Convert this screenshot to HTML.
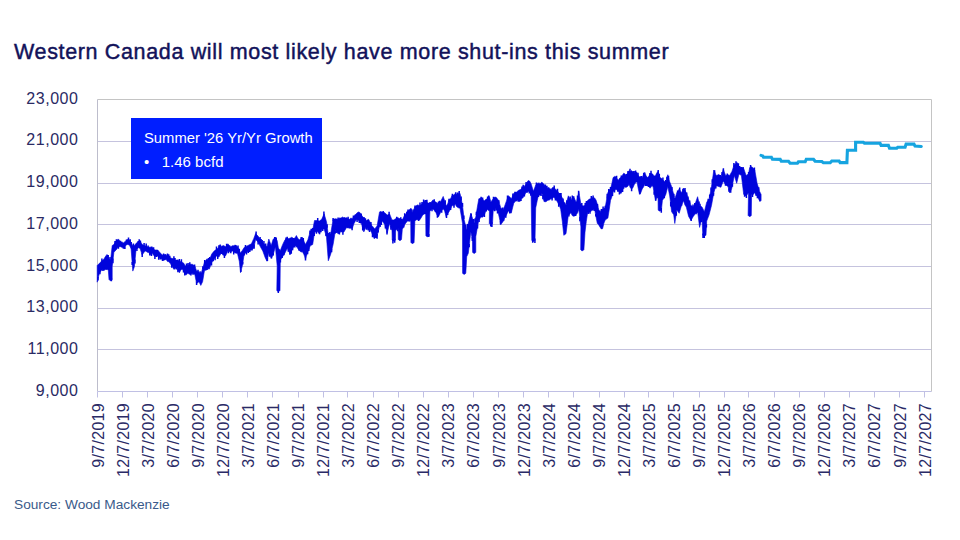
<!DOCTYPE html>
<html><head><meta charset="utf-8">
<style>
html,body{margin:0;padding:0;background:#fff;}
body{width:960px;height:540px;position:relative;overflow:hidden;font-family:"Liberation Sans",sans-serif;}
.t{position:absolute;white-space:nowrap;}
#title{left:14px;top:39.5px;font-size:21.5px;line-height:24px;letter-spacing:0.65px;color:#12125a;-webkit-text-stroke:0.45px #12125a;}
#src{left:14px;top:496.5px;font-size:13.7px;line-height:16px;color:#3a5a8a;}
.yl{position:absolute;left:0;width:78.5px;text-align:right;font-size:16px;letter-spacing:0.55px;color:#2a2a64;line-height:16px;white-space:nowrap;}
.xl{position:absolute;font-size:16px;letter-spacing:0.3px;color:#2a2a66;line-height:16px;white-space:nowrap;transform-origin:0 0;transform:rotate(-90deg);text-align:right;width:80px;}
#box{position:absolute;left:131px;top:118px;width:191px;height:60.5px;background:#001eff;color:#fff;}
#box .a{position:absolute;left:13px;top:11.5px;font-size:14.8px;line-height:16px;white-space:nowrap;}
#box .b{position:absolute;left:13px;top:36px;font-size:15px;line-height:16px;white-space:nowrap;}
</style></head><body>
<div class="t" id="title">Western Canada will most likely have more shut-ins this summer</div>

<svg width="960" height="540" style="position:absolute;left:0;top:0"><line x1="97.5" y1="141.50" x2="931.5" y2="141.50" stroke="#c5c3de" stroke-width="1"/><line x1="97.5" y1="183.50" x2="931.5" y2="183.50" stroke="#c5c3de" stroke-width="1"/><line x1="97.5" y1="224.50" x2="931.5" y2="224.50" stroke="#c5c3de" stroke-width="1"/><line x1="97.5" y1="266.50" x2="931.5" y2="266.50" stroke="#c5c3de" stroke-width="1"/><line x1="97.5" y1="308.50" x2="931.5" y2="308.50" stroke="#c5c3de" stroke-width="1"/><line x1="97.5" y1="349.50" x2="931.5" y2="349.50" stroke="#c5c3de" stroke-width="1"/><polyline points="97.5,99.5 931.5,99.5 931.5,391.5" fill="none" stroke="#c4c4c4" stroke-width="1"/><line x1="97.5" y1="99.5" x2="97.5" y2="391.5" stroke="#bdbdcc" stroke-width="1"/><line x1="97.5" y1="391.5" x2="931.5" y2="391.5" stroke="#c0c0e4" stroke-width="1"/><line x1="97.5" y1="391.5" x2="97.5" y2="397.5" stroke="#c0c0e4" stroke-width="1"/><line x1="122.5" y1="391.5" x2="122.5" y2="397.5" stroke="#c0c0e4" stroke-width="1"/><line x1="147.5" y1="391.5" x2="147.5" y2="397.5" stroke="#c0c0e4" stroke-width="1"/><line x1="172.5" y1="391.5" x2="172.5" y2="397.5" stroke="#c0c0e4" stroke-width="1"/><line x1="197.5" y1="391.5" x2="197.5" y2="397.5" stroke="#c0c0e4" stroke-width="1"/><line x1="222.5" y1="391.5" x2="222.5" y2="397.5" stroke="#c0c0e4" stroke-width="1"/><line x1="247.5" y1="391.5" x2="247.5" y2="397.5" stroke="#c0c0e4" stroke-width="1"/><line x1="272.5" y1="391.5" x2="272.5" y2="397.5" stroke="#c0c0e4" stroke-width="1"/><line x1="298.5" y1="391.5" x2="298.5" y2="397.5" stroke="#c0c0e4" stroke-width="1"/><line x1="323.5" y1="391.5" x2="323.5" y2="397.5" stroke="#c0c0e4" stroke-width="1"/><line x1="347.5" y1="391.5" x2="347.5" y2="397.5" stroke="#c0c0e4" stroke-width="1"/><line x1="373.5" y1="391.5" x2="373.5" y2="397.5" stroke="#c0c0e4" stroke-width="1"/><line x1="398.5" y1="391.5" x2="398.5" y2="397.5" stroke="#c0c0e4" stroke-width="1"/><line x1="423.5" y1="391.5" x2="423.5" y2="397.5" stroke="#c0c0e4" stroke-width="1"/><line x1="448.5" y1="391.5" x2="448.5" y2="397.5" stroke="#c0c0e4" stroke-width="1"/><line x1="473.5" y1="391.5" x2="473.5" y2="397.5" stroke="#c0c0e4" stroke-width="1"/><line x1="498.5" y1="391.5" x2="498.5" y2="397.5" stroke="#c0c0e4" stroke-width="1"/><line x1="523.5" y1="391.5" x2="523.5" y2="397.5" stroke="#c0c0e4" stroke-width="1"/><line x1="548.5" y1="391.5" x2="548.5" y2="397.5" stroke="#c0c0e4" stroke-width="1"/><line x1="573.5" y1="391.5" x2="573.5" y2="397.5" stroke="#c0c0e4" stroke-width="1"/><line x1="599.5" y1="391.5" x2="599.5" y2="397.5" stroke="#c0c0e4" stroke-width="1"/><line x1="624.5" y1="391.5" x2="624.5" y2="397.5" stroke="#c0c0e4" stroke-width="1"/><line x1="648.5" y1="391.5" x2="648.5" y2="397.5" stroke="#c0c0e4" stroke-width="1"/><line x1="673.5" y1="391.5" x2="673.5" y2="397.5" stroke="#c0c0e4" stroke-width="1"/><line x1="699.5" y1="391.5" x2="699.5" y2="397.5" stroke="#c0c0e4" stroke-width="1"/><line x1="724.5" y1="391.5" x2="724.5" y2="397.5" stroke="#c0c0e4" stroke-width="1"/><line x1="748.5" y1="391.5" x2="748.5" y2="397.5" stroke="#c0c0e4" stroke-width="1"/><line x1="774.5" y1="391.5" x2="774.5" y2="397.5" stroke="#c0c0e4" stroke-width="1"/><line x1="799.5" y1="391.5" x2="799.5" y2="397.5" stroke="#c0c0e4" stroke-width="1"/><line x1="824.5" y1="391.5" x2="824.5" y2="397.5" stroke="#c0c0e4" stroke-width="1"/><line x1="849.5" y1="391.5" x2="849.5" y2="397.5" stroke="#c0c0e4" stroke-width="1"/><line x1="874.5" y1="391.5" x2="874.5" y2="397.5" stroke="#c0c0e4" stroke-width="1"/><line x1="899.5" y1="391.5" x2="899.5" y2="397.5" stroke="#c0c0e4" stroke-width="1"/><line x1="924.5" y1="391.5" x2="924.5" y2="397.5" stroke="#c0c0e4" stroke-width="1"/><polygon points="97.2,265.6 99.4,263.3 101.7,261.1 103.9,258.9 106.1,255.6 108.3,257.8 110.6,260.0 112.2,245.6 113.9,244.4 116.1,241.1 118.3,238.9 120.6,241.7 122.8,243.3 125.0,241.7 127.2,239.4 129.4,240.0 131.1,243.3 132.8,245.6 134.4,245.6 136.1,243.3 138.3,241.7 140.0,241.1 142.2,244.4 144.4,245.6 145.8,246.0 147.2,246.7 148.6,247.1 150.0,247.2 152.2,246.7 153.6,249.3 155.0,250.0 156.4,249.9 157.8,250.0 159.2,251.7 160.6,253.3 161.9,254.6 163.3,255.6 164.7,254.6 166.1,255.0 167.5,255.9 168.9,256.7 170.3,257.8 171.7,258.3 173.9,258.9 175.3,260.1 176.7,260.0 178.1,259.9 179.4,261.7 180.8,261.5 182.2,262.2 183.6,263.0 185.0,265.6 186.4,266.2 187.8,265.6 190.0,264.3 192.4,264.3 194.8,266.1 196.6,270.9 199.0,272.1 200.8,274.5 202.6,268.5 204.4,262.5 206.8,258.9 209.3,260.1 211.7,254.1 214.1,251.1 216.5,249.3 218.9,247.4 221.3,246.2 223.7,245.6 225.5,246.8 227.9,243.8 230.3,246.8 232.7,246.2 235.1,245.0 237.5,246.8 239.3,250.5 240.5,252.9 242.3,250.5 244.2,247.4 246.6,246.2 249.0,245.0 251.4,243.8 253.8,238.4 255.6,233.6 258.0,236.0 260.4,239.6 262.8,242.6 265.2,245.0 267.0,246.8 268.8,239.0 271.2,245.6 273.0,239.6 275.4,237.2 277.2,240.8 278.4,248.1 280.3,250.5 282.7,244.4 285.0,239.7 287.4,238.5 288.9,238.6 290.4,237.9 291.9,237.2 293.4,238.5 294.9,238.1 296.4,235.5 297.9,238.6 299.4,239.7 300.9,238.8 302.4,237.3 304.0,241.2 305.5,244.5 307.9,239.7 310.3,231.3 312.7,230.1 314.5,220.5 316.9,220.5 319.3,221.1 321.7,219.3 324.1,213.8 326.5,221.7 328.3,234.9 330.7,233.7 333.1,219.3 335.5,218.7 337.9,219.3 339.5,217.9 341.0,218.1 342.5,217.0 344.0,218.1 346.4,218.1 347.9,218.7 349.4,219.3 350.9,218.0 352.4,218.7 353.9,216.2 355.4,215.0 356.9,213.0 358.4,212.0 359.9,212.5 361.4,215.0 363.8,218.1 366.2,220.5 368.6,219.3 370.1,222.2 371.6,225.3 373.1,226.9 374.7,228.9 377.1,225.9 379.5,212.0 380.0,211.5 382.4,212.1 384.8,212.7 387.2,215.1 389.6,213.9 392.0,219.9 393.8,219.9 395.6,218.7 398.1,217.5 399.9,219.9 402.3,219.9 404.7,215.1 406.2,213.7 407.7,210.9 409.2,209.7 410.7,208.5 412.5,212.7 414.9,206.7 417.3,204.9 419.7,205.5 421.2,204.6 422.7,203.1 424.2,201.5 425.7,200.0 427.5,203.1 429.9,203.1 431.4,201.9 432.9,200.0 435.4,201.8 436.9,202.7 438.4,203.7 440.8,201.2 443.2,196.4 444.7,200.8 446.2,206.1 447.7,203.8 449.2,199.4 450.7,198.4 452.2,195.2 453.7,195.1 455.2,193.4 456.7,194.2 458.3,194.2 460.0,193.3 462.5,205.0 464.2,220.0 466.7,230.0 468.3,223.3 470.8,213.3 472.5,218.3 474.2,223.3 475.8,216.7 477.3,207.3 478.8,198.8 481.1,198.1 482.6,199.0 484.1,201.1 485.6,199.5 487.1,198.8 489.4,196.6 490.9,201.9 493.2,198.8 494.7,197.1 496.2,197.3 498.5,200.3 500.8,207.9 503.1,209.5 504.6,206.2 506.1,201.9 508.4,195.8 509.9,197.1 511.4,198.8 513.7,193.5 515.2,193.5 516.7,192.0 518.2,190.6 519.8,189.7 521.3,189.2 522.8,186.7 524.3,186.3 525.8,184.4 528.1,180.6 529.6,181.0 531.1,183.7 533.4,191.2 535.7,185.2 537.2,183.4 538.7,182.9 540.3,183.4 541.8,182.1 543.3,183.6 544.8,185.2 546.3,187.7 547.8,188.2 549.4,188.7 550.9,189.7 552.4,187.6 553.9,187.5 555.8,189.6 557.7,191.2 559.2,193.8 560.7,195.0 562.3,197.9 563.8,201.9 566.0,204.9 568.3,195.8 570.9,200.5 572.2,197.8 573.5,197.0 574.8,199.2 576.2,202.3 577.5,198.0 578.8,191.7 580.9,204.0 582.3,205.8 583.6,206.3 585.0,205.8 586.3,202.3 587.6,200.5 589.4,199.1 591.1,198.7 592.9,197.4 594.6,197.9 596.0,200.0 597.3,204.0 598.6,209.1 599.9,212.8 601.2,210.3 602.6,209.3 603.9,208.5 605.2,207.5 606.5,199.9 607.9,192.6 609.2,190.1 610.5,189.0 611.8,183.8 613.1,177.6 614.5,176.4 615.8,176.7 617.1,178.8 618.4,180.2 619.7,178.1 621.1,177.6 622.4,175.2 623.7,173.2 625.0,173.9 626.3,175.8 627.7,172.7 629.0,170.6 630.3,171.6 631.6,170.6 632.9,172.6 634.3,173.2 635.6,172.3 636.9,172.3 638.2,175.4 639.5,176.7 640.9,176.5 642.2,177.6 643.5,174.7 644.8,172.3 646.1,175.7 647.5,177.6 648.8,176.2 650.1,174.1 651.4,173.2 652.7,174.1 654.1,176.0 655.4,175.8 656.7,173.0 658.0,171.4 659.8,177.6 661.1,178.0 662.4,179.4 664.1,181.2 665.8,181.8 667.8,174.7 669.7,181.8 671.6,186.5 673.7,194.4 674.8,199.1 676.8,192.8 679.2,188.9 681.5,192.8 683.6,188.1 684.9,190.1 686.3,192.8 688.6,199.1 691.0,205.4 693.3,207.0 695.7,202.2 697.6,196.7 699.6,205.4 702.0,207.0 704.4,211.7 706.7,202.2 709.1,199.1 711.5,186.5 713.8,170.0 716.2,175.5 718.5,174.7 720.9,177.0 723.3,169.2 725.6,175.5 728.0,174.7 729.6,175.5 731.9,171.5 734.3,164.4 736.7,163.7 739.0,166.8 741.4,167.6 743.7,168.4 746.1,175.5 748.5,173.9 749.7,167.6 751.6,166.8 753.2,167.9 754.8,170.0 757.1,183.3 759.5,191.2 761.1,194.4 761.1,200.7 759.5,200.7 757.1,195.9 754.8,192.8 753.2,194.4 751.6,194.4 751.3,215.4 750.3,216.4 749.1,216.4 748.1,215.4 748.5,192.8 746.1,195.9 743.7,194.4 741.4,175.5 739.0,173.9 736.7,183.3 734.3,175.5 731.9,188.1 729.6,192.8 728.0,186.5 725.6,184.9 723.3,181.0 720.9,187.3 718.5,186.5 716.2,184.9 713.8,192.8 711.5,205.4 709.1,214.8 706.7,221.1 706.0,235.1 705.0,236.1 703.8,236.1 702.8,235.1 702.0,218.0 699.6,227.4 697.6,211.7 695.7,213.3 693.3,216.4 691.0,220.4 688.6,216.4 686.3,207.0 684.9,204.9 683.6,200.7 681.5,205.4 679.2,213.3 676.8,210.1 674.8,223.5 673.7,214.8 671.6,211.7 669.7,195.9 667.8,186.5 665.8,194.4 664.1,197.7 662.4,200.5 661.4,210.1 660.4,211.1 659.2,211.1 658.2,210.1 658.0,195.2 656.7,196.9 655.4,200.5 654.1,192.8 652.7,184.6 651.4,186.6 650.1,188.2 648.8,186.6 647.5,185.5 646.1,185.4 644.8,184.6 643.5,187.0 642.2,189.0 640.9,192.5 639.5,194.3 638.2,188.4 636.9,181.1 635.6,182.7 634.3,184.6 632.9,187.7 631.6,189.0 630.3,187.7 629.0,184.6 627.7,186.4 626.3,187.3 625.0,186.5 623.7,186.4 622.4,190.8 621.1,193.5 619.7,192.8 618.4,190.8 617.1,190.4 615.8,189.0 614.5,190.9 613.1,191.7 611.8,197.0 610.5,200.5 609.2,209.8 607.9,218.1 606.5,219.1 605.2,219.9 603.9,223.3 602.6,228.7 601.2,228.9 599.9,226.9 598.6,224.7 597.3,223.4 596.0,216.8 594.6,209.3 592.9,210.1 591.1,211.1 589.4,212.2 587.6,212.8 586.3,221.4 585.0,232.2 583.9,249.7 582.9,250.7 581.7,250.7 580.7,249.7 580.9,226.9 578.8,209.3 577.5,213.0 576.2,214.6 574.8,215.9 573.5,216.3 572.2,215.5 570.9,212.8 568.3,215.5 566.0,233.7 563.8,235.3 562.3,221.3 560.7,209.5 559.2,205.0 557.7,202.6 555.8,199.2 553.9,197.3 552.4,198.3 550.9,198.8 549.4,200.0 547.8,200.3 546.3,201.5 544.8,201.9 543.3,198.4 541.8,192.8 540.3,194.4 538.7,194.3 537.2,200.8 535.7,207.9 535.0,240.3 534.0,241.3 532.8,241.3 531.8,240.3 531.1,194.3 529.6,192.0 528.1,191.2 525.8,192.8 524.3,195.6 522.8,198.1 521.3,198.5 519.8,199.6 518.2,199.6 516.7,201.1 515.2,201.3 513.7,203.4 511.4,212.5 509.9,211.6 508.4,211.0 506.1,215.5 504.6,218.1 503.1,221.6 500.8,224.6 498.5,214.0 496.2,207.9 494.7,208.4 493.2,211.0 492.5,223.6 491.5,224.6 490.3,224.6 489.3,223.6 489.4,211.0 487.1,209.5 485.6,211.8 484.1,215.5 482.6,217.2 481.1,217.0 478.8,220.1 477.3,227.9 475.8,236.7 475.8,252.3 474.8,253.3 473.6,253.3 472.6,252.3 472.5,240.0 470.8,231.7 468.3,253.3 466.7,256.7 465.8,273.2 464.8,274.2 463.6,274.2 462.6,273.2 462.5,223.3 460.0,208.3 458.3,207.8 456.7,206.7 455.2,204.3 453.7,205.6 452.2,205.5 450.7,208.6 449.2,211.5 447.7,213.6 446.2,216.9 444.7,211.4 443.2,207.9 440.8,212.1 438.4,216.9 436.9,214.7 435.4,211.5 432.9,209.1 431.4,209.6 429.9,211.5 429.1,235.7 428.1,236.7 426.9,236.7 425.9,235.7 425.7,213.9 424.2,214.0 422.7,215.1 421.2,217.7 419.7,219.9 417.3,218.7 414.9,221.1 414.1,242.4 413.1,243.4 411.9,243.4 410.9,242.4 410.7,219.9 409.2,221.2 407.7,221.1 406.2,222.4 404.7,224.7 402.3,229.5 401.5,239.4 400.5,240.4 399.3,240.4 398.3,239.4 398.1,228.3 395.6,230.7 395.4,240.0 394.4,241.0 393.2,241.0 392.2,240.0 392.0,230.7 389.6,223.5 387.2,233.1 384.8,224.7 382.4,221.1 380.0,225.9 379.5,226.5 377.1,236.1 374.7,238.5 373.1,235.9 371.6,232.5 370.1,230.1 368.6,228.9 366.2,227.1 363.8,231.9 361.4,223.5 359.9,222.7 358.4,219.9 356.9,219.4 355.4,221.1 353.9,223.8 352.4,228.3 350.9,227.8 349.4,227.7 347.9,227.9 346.4,227.7 344.0,231.9 342.5,232.1 341.0,230.7 339.5,233.2 337.9,233.7 335.5,230.1 333.1,244.5 330.7,254.2 328.3,260.8 326.5,237.3 324.1,228.9 321.7,228.9 319.3,233.7 316.9,231.3 314.5,232.5 312.7,244.5 310.3,245.7 307.9,251.7 305.5,259.0 304.0,254.7 302.4,251.7 300.9,252.1 299.4,250.5 297.9,248.7 296.4,245.7 294.9,245.9 293.4,247.5 291.9,250.3 290.4,254.2 288.9,251.8 287.4,248.1 285.0,252.9 282.7,256.5 280.3,260.1 280.0,290.4 279.0,291.4 277.8,291.4 276.8,290.4 277.2,266.1 275.4,246.8 273.0,255.3 271.2,258.3 268.8,252.9 267.0,261.3 265.2,257.7 262.8,251.1 260.4,246.8 258.0,242.0 255.6,239.6 253.8,248.1 251.4,249.9 249.0,250.5 246.6,252.3 244.2,254.1 242.3,266.1 240.5,272.7 239.3,261.3 237.5,253.5 235.1,252.9 232.7,251.1 230.3,251.7 227.9,251.1 225.5,255.9 223.7,255.3 221.3,252.9 218.9,257.1 216.5,255.9 214.1,258.9 211.7,262.5 209.3,269.1 206.8,268.5 204.4,270.9 202.6,281.7 200.8,285.4 199.0,281.7 196.6,283.5 194.8,274.5 192.4,273.3 190.0,274.5 187.8,273.3 186.4,274.8 185.0,274.4 183.6,270.9 182.2,268.9 180.8,270.1 179.4,272.8 178.1,270.8 176.7,267.2 175.3,268.5 173.9,269.4 171.7,265.6 170.3,263.6 168.9,261.7 167.5,261.6 166.1,259.4 164.7,259.9 163.3,260.6 161.9,259.2 160.6,258.3 159.2,257.4 157.8,256.1 156.4,255.8 155.0,256.7 153.6,255.2 152.2,253.3 150.0,254.4 148.6,252.4 147.2,252.2 145.8,251.0 144.4,251.7 142.2,255.0 140.0,248.3 138.3,247.8 136.1,249.4 134.4,266.7 132.8,271.1 131.1,248.9 129.4,245.0 127.2,244.4 125.0,246.1 122.8,247.8 120.6,246.7 118.3,246.7 116.1,250.0 113.9,252.2 112.2,266.7 112.2,279.6 111.2,280.6 110.0,280.6 109.0,279.6 108.3,270.0 106.1,268.9 103.9,268.9 101.7,270.0 99.4,273.3 97.2,282.2" fill="#0004dc" stroke="#0004dc" stroke-width="0.6" stroke-linejoin="round"/><path d="M98.0 277.0V280.4M99.9 270.6V274.2M101.9 258.6V262.9M102.9 267.4V271.0M104.2 266.9V270.5M106.0 266.9V270.0M107.0 254.4V258.4M108.2 255.1V259.7M110.0 256.9V261.5M111.4 278.3V281.3M112.9 258.6V263.2M115.0 241.0V244.8M116.4 239.2V242.9M118.4 244.7V248.8M120.5 240.7V243.6M122.0 241.8V244.8M123.5 245.2V248.8M124.9 244.2V248.9M126.5 239.6V242.2M128.5 237.6V241.8M130.2 239.2V243.5M131.2 241.9V245.5M132.2 262.0V265.0M133.4 243.6V247.6M134.9 259.5V263.5M136.9 246.8V250.9M138.2 240.9V243.8M139.2 239.2V243.4M140.4 240.4V243.7M142.2 253.0V256.9M144.1 243.1V247.4M146.2 243.5V248.2M148.1 245.4V248.9M149.8 252.2V255.6M151.5 251.7V256.0M153.6 247.3V251.3M154.9 254.6V258.9M156.7 253.9V256.9M158.7 255.0V259.8M160.4 256.2V259.5M162.5 257.7V261.0M163.6 253.6V257.4M165.5 254.3V256.8M167.5 253.5V257.8M168.7 254.2V258.5M169.8 255.8V259.4M171.7 263.6V267.7M173.9 256.2V260.9M175.0 258.1V261.8M176.3 265.6V269.5M177.9 268.5V272.3M179.3 259.0V263.5M181.4 259.3V263.8M183.5 268.8V272.6M184.8 271.9V275.6M186.5 263.4V268.2M188.1 263.0V267.4M189.8 262.3V266.4M190.9 272.1V275.5M193.0 271.6V274.8M194.6 264.4V267.9M196.6 281.4V285.0M198.0 269.7V273.6M200.1 271.2V275.5M201.1 272.6V275.6M202.9 266.2V269.5M204.7 260.0V264.1M205.8 267.5V270.6M207.1 266.6V270.1M208.5 258.0V261.7M209.7 257.0V261.0M211.5 261.0V265.5M213.2 258.2V261.2M215.1 255.6V260.2M216.5 246.6V251.3M217.7 254.5V259.0M218.9 245.3V249.4M220.2 244.4V248.8M221.7 251.3V254.1M223.2 252.8V255.3M224.4 253.5V258.1M226.6 243.8V247.5M228.5 249.2V253.3M229.7 245.4V248.1M230.8 249.5V253.2M232.5 245.4V248.3M233.7 249.8V254.6M235.8 244.9V247.6M238.0 245.4V249.7M239.3 248.8V252.5M240.9 269.5V272.1M242.7 261.7V264.6M244.2 252.0V255.4M245.5 245.1V248.8M246.5 250.3V254.6M248.3 248.9V252.9M249.8 248.2V251.9M252.0 247.4V250.5M254.1 244.5V248.8M256.1 231.5V236.1M258.1 240.3V244.6M260.1 237.0V241.1M261.1 239.0V242.6M262.2 239.9V243.8M263.9 241.1V245.7M265.7 243.5V247.5M267.4 257.6V261.0M269.6 252.6V256.7M271.5 255.8V258.4M273.2 252.6V255.6M274.7 237.0V239.9M276.2 237.6V240.7M278.3 289.4V293.0M280.4 257.8V262.6M282.2 255.2V257.9M283.9 252.6V255.2M286.0 237.6V241.2M287.2 236.7V240.6M288.3 248.3V251.8M289.9 251.4V254.7M291.3 250.0V253.8M292.6 247.0V250.2M293.6 237.9V240.4M294.8 244.1V247.5M296.9 244.6V247.2M299.1 248.1V250.8M301.2 237.0V240.6M303.3 237.9V241.6M305.5 257.0V260.5M307.6 250.5V254.3M308.8 247.5V251.0M310.0 230.5V234.2M311.2 228.8V232.8M312.7 228.1V231.9M314.2 232.3V236.0M316.4 229.5V233.7M317.7 218.1V222.7M319.6 231.0V234.3M321.0 228.4V232.2M322.7 226.9V231.1M323.9 211.6V216.3M326.0 233.5V236.1M327.1 224.2V227.7M328.8 232.9V236.6M329.9 232.1V236.1M331.6 248.8V252.2M333.1 218.0V221.3M335.0 231.1V233.8M336.2 229.0V233.0M338.1 217.6V221.1M339.4 231.2V234.5M341.2 228.9V232.2M342.9 230.1V234.7M344.4 217.3V220.1M346.4 217.4V220.1M348.1 216.7V220.8M349.5 225.7V228.4M350.7 225.8V228.5M352.1 226.2V230.3M353.4 215.6V219.0M355.3 214.4V217.1M357.1 217.5V222.1M359.3 219.5V223.0M361.2 213.5V216.7M362.7 226.0V230.5M364.0 216.9V220.2M365.4 218.3V221.7M366.7 225.4V229.7M368.3 226.6V230.4M369.5 227.6V232.1M370.9 222.0V225.7M372.5 232.5V237.2M374.3 235.9V238.6M376.0 235.2V237.9M377.1 234.1V238.7M378.2 229.7V232.5M380.1 223.8V226.9M381.3 221.3V225.0M383.2 211.0V214.3M385.4 224.8V228.4M387.0 230.5V234.6M389.1 211.7V216.1M390.9 225.5V229.8M392.9 238.7V243.4M394.7 238.7V242.8M396.7 216.7V220.2M397.8 226.5V231.3M399.3 218.2V221.2M400.8 217.2V221.9M401.9 219.1V221.9M403.7 224.7V227.6M404.7 213.2V217.0M406.8 211.7V214.5M408.0 209.5V212.6M409.9 218.6V221.6M411.1 208.6V211.5M413.0 209.6V213.3M415.0 205.5V208.6M417.1 216.9V220.2M418.7 217.4V221.0M420.0 202.6V207.3M422.0 202.1V205.8M423.6 199.4V204.2M425.4 199.9V202.4M426.9 199.7V204.1M428.8 234.1V236.9M430.0 201.9V205.0M432.0 207.4V211.3M434.2 199.3V203.0M435.4 209.6V212.1M437.4 213.4V217.8M438.5 201.4V205.5M439.6 200.8V204.4M441.7 208.4V212.8M443.1 206.0V209.4M445.2 200.2V204.6M446.5 214.3V218.0M447.7 211.7V214.9M449.0 198.7V201.9M450.6 206.8V210.1M452.4 193.8V197.2M454.0 203.4V207.8M455.7 192.3V195.7M457.6 192.4V196.2M459.2 191.0V195.8M461.1 196.6V200.5M462.5 203.1V206.8M463.8 215.5V218.9M465.6 224.8V227.8M467.5 224.0V228.7M469.2 244.1V247.3M471.2 213.5V216.3M472.3 236.9V241.0M473.5 218.9V223.3M475.2 218.2V221.2M476.4 211.7V215.1M477.5 225.0V228.5M479.1 217.7V221.9M481.1 196.8V200.1M482.6 197.6V201.0M484.4 212.8V217.1M486.2 208.9V211.5M487.6 196.4V200.4M488.7 195.6V199.2M490.7 222.6V226.5M491.9 222.3V226.9M493.5 196.8V200.5M494.7 206.4V211.2M496.3 206.1V210.5M497.5 209.4V213.4M498.8 200.2V203.2M500.5 221.1V224.4M502.6 207.6V211.1M503.7 218.0V220.8M505.8 214.0V217.8M507.5 195.6V200.2M509.7 209.5V213.4M510.8 210.2V213.3M512.9 193.5V197.3M514.9 191.8V195.5M516.0 191.8V194.7M518.2 197.7V201.7M519.6 197.6V201.8M521.0 196.7V201.1M522.0 186.4V190.0M523.2 184.8V188.6M524.4 193.4V196.5M526.1 182.0V186.0M527.1 189.9V192.7M529.3 189.8V193.4M530.8 191.7V195.8M532.7 239.2V242.8M534.9 238.5V242.9M536.4 182.6V186.4M538.5 193.4V197.1M540.0 192.4V195.6M541.1 191.5V196.1M542.9 195.1V199.3M544.3 198.7V201.4M545.4 184.6V188.3M546.9 185.8V189.9M548.6 187.3V190.5M550.0 188.5V191.2M552.1 196.4V200.4M554.2 185.4V189.7M555.4 196.8V200.6M557.5 188.8V193.1M558.7 202.1V206.8M559.7 192.9V196.1M561.0 193.1V197.6M563.0 198.6V201.9M564.7 202.6V205.1M566.8 200.2V203.9M568.9 212.9V216.5M570.2 196.6V201.2M572.3 195.4V199.8M573.7 196.3V199.2M575.7 213.0V216.0M577.5 195.4V199.9M578.6 190.7V194.9M579.9 216.7V221.2M581.8 203.0V207.1M583.9 205.5V208.2M585.2 203.1V207.2M586.4 201.1V204.1M588.2 210.6V214.0M590.0 209.8V213.7M591.3 196.0V200.6M593.1 195.5V199.5M594.2 207.5V211.0M595.8 214.0V216.6M597.5 203.9V207.0M599.5 210.5V213.6M601.4 209.1V212.2M603.1 206.4V211.0M605.3 205.7V209.3M607.2 193.8V198.5M608.8 189.1V192.9M610.5 186.9V190.9M612.5 192.3V196.0M614.5 188.9V192.5M616.6 175.8V180.1M617.8 188.6V191.7M619.4 190.2V194.5M621.3 175.5V179.2M622.6 188.2V191.9M623.6 184.7V188.8M625.3 184.7V187.6M626.5 173.9V177.5M628.0 171.0V174.1M630.0 168.7V173.3M631.6 187.0V191.3M632.9 171.3V174.5M634.0 171.1V175.1M635.6 170.5V174.3M636.7 179.4V182.2M638.0 172.8V176.9M640.0 191.7V194.3M641.5 176.1V179.1M643.7 172.8V176.4M645.6 183.1V185.9M647.1 183.5V186.1M648.4 184.3V187.1M649.9 172.9V176.4M651.0 170.7V175.5M652.9 183.6V186.6M654.2 191.6V194.7M655.8 197.5V200.8M657.2 194.3V198.2M658.2 170.1V174.1M659.3 173.7V177.8M661.3 208.1V212.7M662.9 177.4V181.8M664.3 195.3V198.3M665.7 180.0V183.8M666.9 176.8V179.8M668.5 175.7V179.2M670.7 202.1V206.5M671.9 187.1V189.8M673.8 193.7V196.9M674.8 197.9V201.0M676.3 211.7V215.8M677.6 190.6V193.5M679.7 187.5V191.8M681.6 203.3V205.8M683.0 188.8V191.5M685.0 188.0V192.3M686.7 192.4V195.8M687.9 196.4V199.3M689.7 200.6V203.8M691.2 218.1V220.9M693.0 204.6V208.7M694.8 203.1V206.0M696.1 210.9V214.3M697.6 209.8V212.8M699.0 201.5V204.5M700.0 203.7V207.6M701.7 217.3V222.0M703.0 233.4V238.0M704.3 234.1V238.1M706.4 224.3V227.4M708.2 198.8V202.3M709.7 194.6V198.0M711.1 187.4V190.5M712.3 179.3V182.8M713.5 192.7V195.7M714.6 170.3V173.7M715.8 184.3V188.5M717.4 183.7V186.3M718.9 174.4V177.0M720.4 174.9V178.5M722.1 171.9V175.1M723.4 168.2V171.5M725.5 182.6V185.7M727.3 173.4V176.9M729.0 188.5V191.8M730.7 188.6V192.8M732.4 183.4V186.8M733.9 163.1V167.5M736.0 161.3V165.9M737.0 162.5V166.2M738.4 163.3V168.0M739.6 166.0V169.0M741.4 167.1V169.6M743.1 167.1V170.2M744.6 193.0V196.7M746.4 193.6V198.0M748.6 172.1V175.4M750.6 165.1V169.2M752.5 192.4V197.1M754.4 167.6V171.6M756.0 192.5V195.8M757.4 194.4V198.2M758.7 187.2V190.5M759.9 198.7V201.5" stroke="#0004dc" stroke-width="1.5" fill="none"/><polyline points="761.0,155.4 762.8,156.0 763.5,157.3 771.4,157.3 772.4,159.2 780.2,159.4 781.3,161.3 788.5,161.3 790.1,163.3 797.4,163.3 798.4,161.8 805.2,161.8 806.3,159.2 813.5,159.2 815.1,161.3 821.9,161.5 823.4,162.8 830.2,162.8 831.8,161.0 839.1,161.0 840.1,162.6 846.9,162.6 847.4,150.3 855.6,150.3 855.6,142.3 863.4,142.3 864.5,143.3 880.1,143.3 881.1,145.4 888.4,145.4 889.5,148.2 896.8,148.2 897.8,147.2 905.1,147.2 906.1,144.1 914.0,144.1 915.0,146.1 921.3,146.5" fill="none" stroke="#16a4e0" stroke-width="3.1" stroke-linejoin="miter" stroke-linecap="round"/></svg>
<div class="yl" style="top:90.7px">23,000</div>
<div class="yl" style="top:132.4px">21,000</div>
<div class="yl" style="top:174.1px">19,000</div>
<div class="yl" style="top:215.8px">17,000</div>
<div class="yl" style="top:257.6px">15,000</div>
<div class="yl" style="top:299.3px">13,000</div>
<div class="yl" style="top:341.0px">11,000</div>
<div class="yl" style="top:382.7px">9,000</div>
<div class="xl" style="left:90.5px;top:483.0px">9/7/2019</div>
<div class="xl" style="left:115.5px;top:483.0px">12/7/2019</div>
<div class="xl" style="left:140.5px;top:483.0px">3/7/2020</div>
<div class="xl" style="left:165.7px;top:483.0px">6/7/2020</div>
<div class="xl" style="left:191.0px;top:483.0px">9/7/2020</div>
<div class="xl" style="left:216.0px;top:483.0px">12/7/2020</div>
<div class="xl" style="left:240.7px;top:483.0px">3/7/2021</div>
<div class="xl" style="left:265.9px;top:483.0px">6/7/2021</div>
<div class="xl" style="left:291.2px;top:483.0px">9/7/2021</div>
<div class="xl" style="left:316.1px;top:483.0px">12/7/2021</div>
<div class="xl" style="left:340.9px;top:483.0px">3/7/2022</div>
<div class="xl" style="left:366.1px;top:483.0px">6/7/2022</div>
<div class="xl" style="left:391.4px;top:483.0px">9/7/2022</div>
<div class="xl" style="left:416.3px;top:483.0px">12/7/2022</div>
<div class="xl" style="left:441.0px;top:483.0px">3/7/2023</div>
<div class="xl" style="left:466.3px;top:483.0px">6/7/2023</div>
<div class="xl" style="left:491.6px;top:483.0px">9/7/2023</div>
<div class="xl" style="left:516.5px;top:483.0px">12/7/2023</div>
<div class="xl" style="left:541.5px;top:483.0px">3/7/2024</div>
<div class="xl" style="left:566.8px;top:483.0px">6/7/2024</div>
<div class="xl" style="left:592.0px;top:483.0px">9/7/2024</div>
<div class="xl" style="left:617.0px;top:483.0px">12/7/2024</div>
<div class="xl" style="left:641.7px;top:483.0px">3/7/2025</div>
<div class="xl" style="left:667.0px;top:483.0px">6/7/2025</div>
<div class="xl" style="left:692.2px;top:483.0px">9/7/2025</div>
<div class="xl" style="left:717.2px;top:483.0px">12/7/2025</div>
<div class="xl" style="left:741.9px;top:483.0px">3/7/2026</div>
<div class="xl" style="left:767.2px;top:483.0px">6/7/2026</div>
<div class="xl" style="left:792.4px;top:483.0px">9/7/2026</div>
<div class="xl" style="left:817.4px;top:483.0px">12/7/2026</div>
<div class="xl" style="left:842.1px;top:483.0px">3/7/2027</div>
<div class="xl" style="left:867.4px;top:483.0px">6/7/2027</div>
<div class="xl" style="left:892.6px;top:483.0px">9/7/2027</div>
<div class="xl" style="left:917.6px;top:483.0px">12/7/2027</div>
<div id="box"><div class="a">Summer '26 Yr/Yr Growth</div><div class="b">&bull;&nbsp;&nbsp;&nbsp;1.46 bcfd</div></div>
<div class="t" id="src">Source: Wood Mackenzie</div>
</body></html>
